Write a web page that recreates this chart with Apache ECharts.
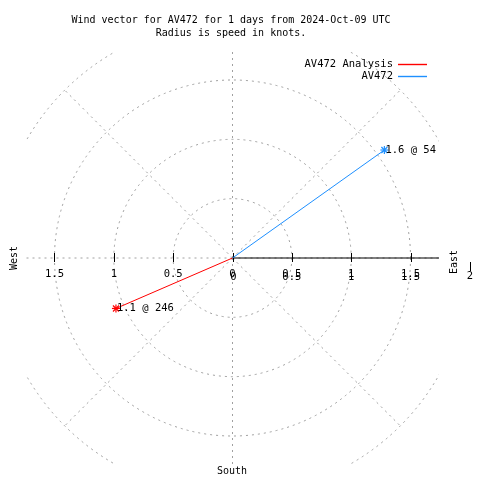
<!DOCTYPE html>
<html>
<head>
<meta charset="utf-8">
<script src="https://cdn.jsdelivr.net/npm/echarts@6/dist/echarts.min.js"></script>
<style>html,body{margin:0;padding:0;background:#fff}#c{width:480px;height:480px}</style>
</head>
<body>
<div id="c"></div>
<script>
const titleLines = ['Wind vector for AV472 for 1 days from 2024-Oct-09 UTC', 'Radius is speed in knots.'];
const seriesNames = ['AV472 Analysis', 'AV472'];
const speeds = [1.07, 1.57];
const directions = [246.6, 54.6];
const seriesColors = ['#ff0000', '#1e90ff'];
const ringRadii = [0.5, 1, 1.5, 2];
const spokeAngles = [0, 45, 90, 135, 180, 225, 270, 315];
const tickValues = [-1.5, -1, -0.5, 0, 0.5, 1, 1.5, 2];
const tickLabels = ['1.5', '1', '0.5', '0', '0.5', '1', '1.5', '2'];
const compassLabels = ['West', 'East', 'South'];

const FONT = '"DejaVu Sans Mono", monospace';
const xMin = -1.74, xMax = 1.74, yMin = -1.735, yMax = 1.735;
const GRAY = '#a0a0a0';

const chart = echarts.init(document.getElementById('c'), null, {renderer: 'canvas'});

const vectorSeries = seriesNames.map((name, i) => ({
  type: 'custom',
  name: name,
  coordinateSystem: 'cartesian2d',
  clip: false,
  z: 5,
  itemStyle: {color: seriesColors[i]},
  data: [[speeds[i], directions[i]]],
  encode: {x: -1, y: -1},
  renderItem: function (params, api) {
    const sp = api.value(0), dir = api.value(1);
    const rad = dir * Math.PI / 180;
    const o = api.coord([0, 0]);
    const p = api.coord([sp * Math.sin(rad), sp * Math.cos(rad)]);
    const col = seriesColors[i];
    const s = 4, d = 3;
    const label = sp.toFixed(1) + ' @ ' + Math.floor(dir);
    return {
      type: 'group',
      children: [
        {type: 'line', shape: {x1: o[0], y1: o[1], x2: p[0], y2: p[1]}, style: {stroke: col, lineWidth: 1}},
        {type: 'line', shape: {x1: p[0] - s, y1: p[1], x2: p[0] + s, y2: p[1]}, style: {stroke: col, lineWidth: 1.2}},
        {type: 'line', shape: {x1: p[0], y1: p[1] - s, x2: p[0], y2: p[1] + s}, style: {stroke: col, lineWidth: 1.2}},
        {type: 'line', shape: {x1: p[0] - d, y1: p[1] - d, x2: p[0] + d, y2: p[1] + d}, style: {stroke: col, lineWidth: 1.2}},
        {type: 'line', shape: {x1: p[0] - d, y1: p[1] + d, x2: p[0] + d, y2: p[1] - d}, style: {stroke: col, lineWidth: 1.2}},
        {type: 'text', x: p[0] + 1, y: p[1], style: {text: label, fill: '#000', font: '10.5px ' + FONT, textAlign: 'left', textVerticalAlign: 'middle'}}
      ]
    };
  }
}));

const legendCommon = {align: 'right', orient: 'vertical', icon: 'rect', itemWidth: 29, itemHeight: 1.4, selectedMode: false,
  textStyle: {color: '#000', fontFamily: FONT, fontSize: 10.5}};

const option = {
  animation: false,
  backgroundColor: '#fff',
  graphic: [
    {type: 'text', x: 231, y: 20, style: {text: titleLines[0], fill: '#000', font: '10px ' + FONT, textAlign: 'center', textVerticalAlign: 'middle'}},
    {type: 'text', x: 231, y: 33, style: {text: titleLines[1], fill: '#000', font: '10px ' + FONT, textAlign: 'center', textVerticalAlign: 'middle'}},
    {type: 'text', x: 14.5, y: 258, rotation: Math.PI / 2, style: {text: compassLabels[0], fill: '#000', font: '10px ' + FONT, textAlign: 'center', textVerticalAlign: 'middle'}},
    {type: 'text', x: 454, y: 262, rotation: Math.PI / 2, style: {text: compassLabels[1], fill: '#000', font: '10px ' + FONT, textAlign: 'center', textVerticalAlign: 'middle'}},
    {type: 'text', x: 232, y: 471, style: {text: compassLabels[2], fill: '#000', font: '10px ' + FONT, textAlign: 'center', textVerticalAlign: 'middle'}}
  ],
  legend: [
    Object.assign({data: [{name: seriesNames[0], itemStyle: {color: seriesColors[0]}}], right: 48, top: 54}, legendCommon),
    Object.assign({data: [{name: seriesNames[1], itemStyle: {color: seriesColors[1]}}], right: 48, top: 66}, legendCommon)
  ],
  grid: {left: 26, top: 52, width: 413, height: 412, containLabel: false, show: false},
  xAxis: {type: 'value', min: xMin, max: xMax, show: false},
  yAxis: {type: 'value', min: yMin, max: yMax, show: false},
  series: [
    {
      type: 'custom', name: 'rings', clip: true, silent: true, z: 1,
      data: ringRadii.map(r => [r, 0]),
      encode: {x: -1, y: -1},
      renderItem: function (params, api) {
        const c = api.coord([0, 0]);
        const e = api.coord([api.value(0), 0]);
        return {type: 'circle', shape: {cx: c[0], cy: c[1], r: e[0] - c[0]},
          style: {fill: null, stroke: GRAY, lineWidth: 1, lineDash: [2, 4]}};
      }
    },
    {
      type: 'custom', name: 'spokes', clip: true, silent: true, z: 1,
      data: spokeAngles.map(a => [a, 2]),
      encode: {x: -1, y: -1},
      renderItem: function (params, api) {
        const a = api.value(0) * Math.PI / 180, r = api.value(1);
        const c = api.coord([0, 0]);
        const e = api.coord([r * Math.sin(a), r * Math.cos(a)]);
        return {type: 'line', shape: {x1: c[0], y1: c[1], x2: e[0], y2: e[1]},
          style: {stroke: GRAY, lineWidth: 1, lineDash: [2, 4]}};
      }
    },
    {
      type: 'custom', name: 'axisline', clip: true, silent: true, z: 2,
      data: [[0, 2]],
      encode: {x: -1, y: -1},
      renderItem: function (params, api) {
        const a = api.coord([api.value(0), 0]);
        const b = api.coord([api.value(1), 0]);
        return {type: 'line', shape: {x1: a[0], y1: a[1], x2: b[0] + 2, y2: b[1]}, style: {stroke: '#000', lineWidth: 1}};
      }
    },
    {
      type: 'custom', name: 'ticks', clip: false, silent: true, z: 3,
      data: tickValues.map((v, i) => [v, i]),
      encode: {x: -1, y: -1},
      renderItem: function (params, api) {
        const v = api.value(0), i = api.value(1);
        const p = api.coord([v, 0]);
        const outside = v > xMax;
        const t0 = outside ? p[1] + 4 : p[1] - 5;
        const t1 = outside ? p[1] + 13 : p[1] + 4;
        const ty = outside ? p[1] + 18 : p[1] + 16;
        const kids = [
          {type: 'line', shape: {x1: Math.round(p[0]) + 0.5, y1: t0, x2: Math.round(p[0]) + 0.5, y2: t1}, style: {stroke: '#000', lineWidth: 1}},
          {type: 'text', x: p[0], y: ty, style: {text: tickLabels[i], fill: '#000', font: '10.5px ' + FONT, textAlign: 'center', textVerticalAlign: 'middle'}}
        ];
        if (v >= 0 && !outside) {
          kids.push({type: 'text', x: p[0] + (v === 0 ? 1 : 0), y: ty + 3, style: {text: tickLabels[i], fill: '#000', font: '10.5px ' + FONT, textAlign: 'center', textVerticalAlign: 'middle'}});
        }
        return {type: 'group', children: kids};
      }
    }
  ].concat(vectorSeries)
};
chart.setOption(option);
</script>
</body>
</html>
